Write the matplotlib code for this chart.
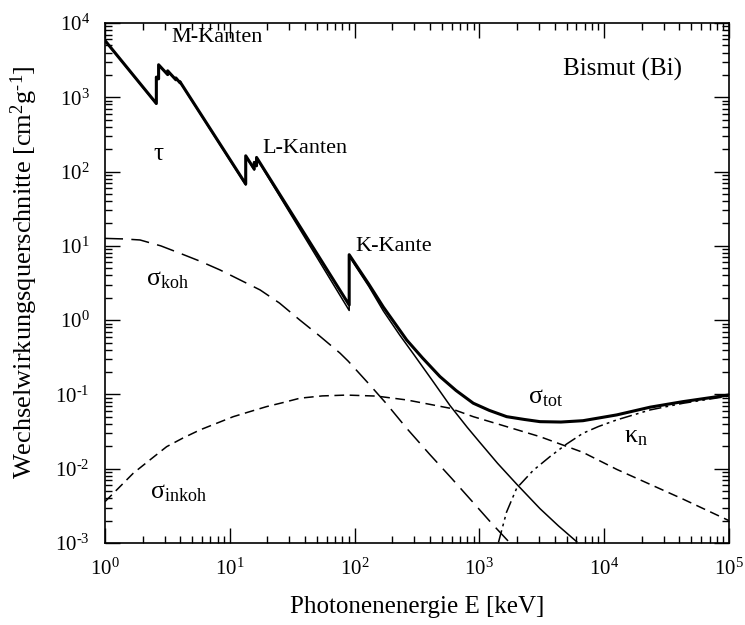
import numpy as np
import matplotlib.pyplot as plt
from matplotlib.ticker import LogLocator, NullFormatter, FuncFormatter

plt.rcParams['font.family'] = ['Liberation Serif', 'DejaVu Serif']
plt.rcParams['mathtext.fontset'] = 'custom'
plt.rcParams['mathtext.rm'] = 'Liberation Serif'
plt.rcParams['mathtext.it'] = 'Liberation Serif:italic'
plt.rcParams['lines.scale_dashes'] = False

# Photoeffekt tau (Energie in keV, Wert in cm^2/g), Kanten als doppelte Punkte
tau_E = [1.0, 2.5799, 2.58, 2.6899, 2.69, 3.1799, 3.18, 3.6999, 3.70, 3.9899, 3.99,
         13.419, 13.42, 15.709, 15.71, 16.389, 16.39, 90.529, 90.53,
         100, 130, 170, 230, 300, 420, 581, 800, 1000, 1400, 1990, 3060, 4300, 6025]
tau_V = [5800, 810, 1850, 1750, 2720, 2000, 2250, 1700, 1800, 1550, 1600,
         66, 160, 105, 130, 117, 152, 1.35, 7.3,
         5.6, 2.85, 1.33, 0.63, 0.34, 0.154, 0.071, 0.036, 0.023, 0.0118, 0.0062,
         0.0029, 0.0017, 0.00104]

# Gesamtquerschnitt sigma_tot
tot_E = [1.0, 2.5799, 2.58, 2.6899, 2.69, 3.1799, 3.18, 3.6999, 3.70, 3.9899, 3.99,
         13.419, 13.42, 15.709, 15.71, 16.389, 16.39, 90.529, 90.53,
         100, 130, 170, 210, 261.5, 350, 483, 650, 893, 1200, 1655, 2300, 3060, 4500,
         6760, 9000, 12600, 23300, 42800, 100000]
tot_V = [5820, 825, 1870, 1770, 2740, 2020, 2270, 1720, 1820, 1570, 1620,
         68, 163, 108, 133, 120, 155, 1.6, 7.6,
         5.9, 3.05, 1.5, 0.91, 0.541, 0.31, 0.174, 0.113, 0.0762, 0.061, 0.0502, 0.046,
         0.0430, 0.0425, 0.0443, 0.0481, 0.0530, 0.0673, 0.080, 0.0984]

# kohaerente Streuung sigma_koh
koh_E = [1.0, 1.4, 1.91, 2.8, 3.99, 5.8, 8.35, 12, 17.5, 25, 36.5, 52, 76.4, 89,
         130, 180, 261.5, 400, 600, 893, 1250, 1758]
koh_V = [12.6, 12.4, 12.0, 10.0, 7.95, 6.2, 4.74, 3.5, 2.55, 1.7, 1.0, 0.62, 0.36, 0.28,
         0.139, 0.075, 0.035, 0.0156, 0.0074, 0.0035, 0.00185, 0.001]

# inkohaerente Streuung sigma_inkoh
inkoh_E = [1.0, 1.3, 1.686, 2.3, 3.12, 4.2, 5.77, 8, 10.67, 14.5, 19.75, 27, 36.5, 55,
           86.4, 150, 261.5, 400, 581, 893, 1500, 3060, 6760, 12600, 42800, 100000]
inkoh_V = [0.0036, 0.0056, 0.0087, 0.0132, 0.0198, 0.0258, 0.0333, 0.0414, 0.0502,
           0.0587, 0.0686, 0.078, 0.089, 0.0955, 0.098, 0.095, 0.0843, 0.0736, 0.0652,
           0.0502, 0.0387, 0.027, 0.0166, 0.0098, 0.0039, 0.0020]

# Paarbildung kappa_n
kap_E = [1300, 1418, 1650, 1990, 2700, 3680, 5000, 6760, 9000, 12600, 23300, 42800, 100000]
kap_V = [0.0004, 0.001, 0.0026, 0.00547, 0.0095, 0.01456, 0.0215, 0.030, 0.037, 0.0454,
         0.0618, 0.076, 0.095]

fig = plt.figure(figsize=(7.45, 6.25), dpi=100)
ax = fig.add_axes([0.1409, 0.1312, 0.8376, 0.832])

ax.plot(tau_E, tau_V, color='black', lw=1.1)
ax.plot(tot_E, tot_V, color='black', lw=2.2)
ax.plot(koh_E, koh_V, color='black', lw=1.1, dashes=(13, 6))
ax.plot(inkoh_E, inkoh_V, color='black', lw=1.1, dashes=(7, 4))
ax.plot(kap_E, kap_V, color='black', lw=1.1, dashes=(9, 3, 2, 3, 2, 3))

ax.set_xscale('log')
ax.set_yscale('log')
ax.set_xlim(1, 1e5)
ax.set_ylim(1e-3, 1e4)


def pow_label(v, pos):
    return r'$10^{\text{%d}}$' % int(round(np.log10(v)))


ax.xaxis.set_major_locator(LogLocator(base=10, numticks=10))
ax.yaxis.set_major_locator(LogLocator(base=10, numticks=10))
ax.xaxis.set_major_formatter(FuncFormatter(pow_label))
ax.yaxis.set_major_formatter(FuncFormatter(pow_label))
ax.xaxis.set_minor_locator(LogLocator(base=10, subs=np.arange(2, 10), numticks=20))
ax.yaxis.set_minor_locator(LogLocator(base=10, subs=np.arange(2, 10), numticks=20))
ax.xaxis.set_minor_formatter(NullFormatter())
ax.yaxis.set_minor_formatter(NullFormatter())
ax.tick_params(which='both', direction='in', top=True, right=True, width=1.0,
               labelsize=15)
ax.tick_params(which='major', length=10.5, pad=11)
ax.tick_params(which='minor', length=5)
for s in ax.spines.values():
    s.set_linewidth(1.2)

ax.set_xlabel('Photonenenergie E [keV]', fontsize=18, labelpad=12)
ax.set_ylabel(r'Wechselwirkungsquerschnitte [cm$^{2}$g$^{\text{-1}}$]', fontsize=19)
ax.yaxis.set_label_coords(-0.104, 0.52)

tr = ax.transAxes
ax.text(0.107, 0.972, 'M-Kanten', transform=tr, fontsize=16, va='center')
ax.text(0.252, 0.758, 'L-Kanten', transform=tr, fontsize=16, va='center')
ax.text(0.401, 0.571, 'K-Kante', transform=tr, fontsize=16, va='center')
ax.text(0.734, 0.910, 'Bismut (Bi)', transform=tr, fontsize=18, va='center')
ax.text(0.085, 0.748, 'τ', transform=tr, fontsize=18, va='center', ha='center')
ax.text(0.066, 0.506, r'$\mathrm{σ_{koh}}$', transform=tr, fontsize=18.5, va='center')
ax.text(0.072, 0.096, r'$\mathrm{σ_{inkoh}}$', transform=tr, fontsize=18.5, va='center')
ax.text(0.678, 0.279, r'$\mathrm{σ_{tot}}$', transform=tr, fontsize=18.5, va='center')
ax.text(0.832, 0.203, r'$\mathrm{κ_{n}}$', transform=tr, fontsize=18.5, va='center')

fig.savefig('out.png', dpi=100)
